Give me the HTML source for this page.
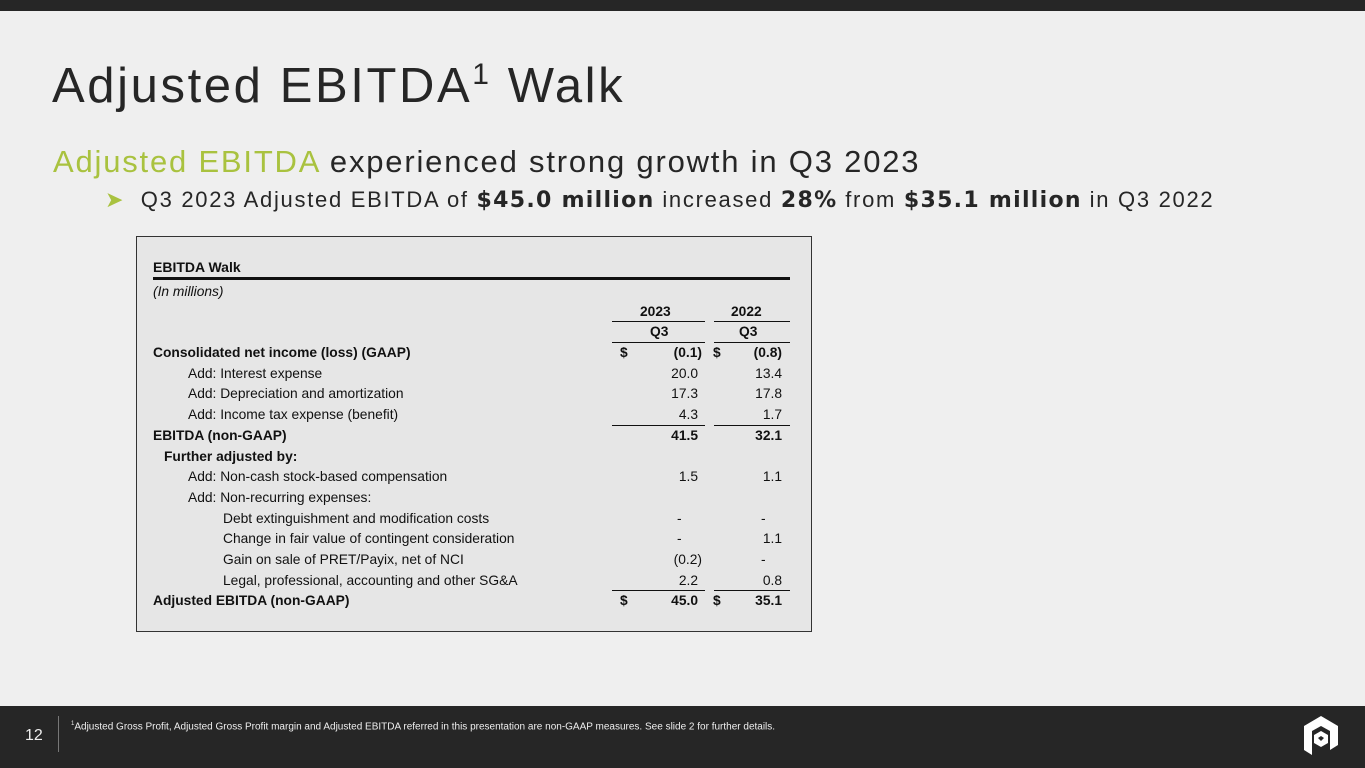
<!DOCTYPE html>
<html><head><meta charset="utf-8"><style>
body{margin:0;width:1365px;height:768px;position:relative;background:#efefef;font-family:"Liberation Sans",sans-serif;overflow:hidden}
.a{position:absolute;white-space:nowrap}
.t{font-size:13.8px;color:#111;line-height:16px}
.b{font-weight:bold}
.r{text-align:right}
.ln{position:absolute;background:#111}
</style></head><body>
<div class="a" style="left:0;top:0;width:1365px;height:11px;background:#262626"></div>
<div class="a" style="left:52px;top:58px;font-size:49px;color:#262626;letter-spacing:2.6px">Adjusted EBITDA<span style="font-size:30px;vertical-align:18px">1</span> Walk</div>
<div class="a" style="left:53px;top:144px;font-size:31px;color:#262626;letter-spacing:1.8px"><span style="color:#a9c23f">Adjusted EBITDA</span> experienced strong growth in Q3 2023</div>
<div class="a" style="left:105px;top:187px;font-size:22px;color:#262626;letter-spacing:1.7px"><span style="color:#a9c23f">&#10148;</span>&nbsp; Q3 2023 Adjusted EBITDA of <b style="font-family:'DejaVu Sans';letter-spacing:1.3px">$45.0 million</b> increased <b style="font-family:'DejaVu Sans';letter-spacing:1.3px">28%</b> from <b style="font-family:'DejaVu Sans';letter-spacing:1.3px">$35.1 million</b> in Q3 2022</div>

<div class="a" style="left:136px;top:236px;width:674px;height:394px;background:#e6e6e6;border:1px solid #333"></div>
<div class="ln" style="left:153px;top:277px;width:637px;height:3px"></div>
<div class="ln" style="left:612px;top:321px;width:93px;height:1px"></div>
<div class="ln" style="left:714px;top:321px;width:76px;height:1px"></div>
<div class="ln" style="left:612px;top:342px;width:93px;height:1px"></div>
<div class="ln" style="left:714px;top:342px;width:76px;height:1px"></div>
<div class="ln" style="left:612px;top:425px;width:93px;height:1px"></div>
<div class="ln" style="left:714px;top:425px;width:76px;height:1px"></div>
<div class="ln" style="left:612px;top:590px;width:93px;height:1px"></div>
<div class="ln" style="left:714px;top:590px;width:76px;height:1px"></div>

<div class="a t b" style="left:153px;top:259px;font-size:14px">EBITDA Walk</div>
<div class="a t" style="left:153px;top:284px;font-style:italic">(In millions)</div>
<div class="a t b" style="left:640px;top:304px">2023</div>
<div class="a t b" style="left:731px;top:304px">2022</div>
<div class="a t b" style="left:650px;top:324px">Q3</div>
<div class="a t b" style="left:739px;top:324px">Q3</div>

<div class="a t b" style="left:153px;top:345px">Consolidated net income (loss) (GAAP)</div>
<div class="a t b" style="left:620px;top:345px">$</div><div class="a t b r" style="right:663px;top:345px">(0.1)</div>
<div class="a t b" style="left:713px;top:345px">$</div><div class="a t b r" style="right:583px;top:345px">(0.8)</div>

<div class="a t" style="left:188px;top:366px">Add: Interest expense</div>
<div class="a t r" style="right:667px;top:366px">20.0</div><div class="a t r" style="right:583px;top:366px">13.4</div>
<div class="a t" style="left:188px;top:386px">Add: Depreciation and amortization</div>
<div class="a t r" style="right:667px;top:386px">17.3</div><div class="a t r" style="right:583px;top:386px">17.8</div>
<div class="a t" style="left:188px;top:407px">Add: Income tax expense (benefit)</div>
<div class="a t r" style="right:667px;top:407px">4.3</div><div class="a t r" style="right:583px;top:407px">1.7</div>
<div class="a t b" style="left:153px;top:428px">EBITDA (non-GAAP)</div>
<div class="a t b r" style="right:667px;top:428px">41.5</div><div class="a t b r" style="right:583px;top:428px">32.1</div>
<div class="a t b" style="left:164px;top:449px">Further adjusted by:</div>
<div class="a t" style="left:188px;top:469px">Add: Non-cash stock-based compensation</div>
<div class="a t r" style="right:667px;top:469px">1.5</div><div class="a t r" style="right:583px;top:469px">1.1</div>
<div class="a t" style="left:188px;top:490px">Add: Non-recurring expenses:</div>
<div class="a t" style="left:223px;top:511px">Debt extinguishment and modification costs</div>
<div class="a t" style="left:677px;top:511px">-</div><div class="a t" style="left:761px;top:511px">-</div>
<div class="a t" style="left:223px;top:531px">Change in fair value of contingent consideration</div>
<div class="a t" style="left:677px;top:531px">-</div><div class="a t r" style="right:583px;top:531px">1.1</div>
<div class="a t" style="left:223px;top:552px">Gain on sale of PRET/Payix, net of NCI</div>
<div class="a t r" style="right:663px;top:552px">(0.2)</div><div class="a t" style="left:761px;top:552px">-</div>
<div class="a t" style="left:223px;top:573px">Legal, professional, accounting and other SG&amp;A</div>
<div class="a t r" style="right:667px;top:573px">2.2</div><div class="a t r" style="right:583px;top:573px">0.8</div>
<div class="a t b" style="left:153px;top:593px">Adjusted EBITDA (non-GAAP)</div>
<div class="a t b" style="left:620px;top:593px">$</div><div class="a t b r" style="right:667px;top:593px">45.0</div>
<div class="a t b" style="left:713px;top:593px">$</div><div class="a t b r" style="right:583px;top:593px">35.1</div>

<div class="a" style="left:0;top:706px;width:1365px;height:62px;background:#262626"></div>
<div class="a" style="left:25px;top:727px;font-size:16px;color:#eee">12</div>
<div class="a" style="left:58px;top:716px;width:1px;height:36px;background:#777"></div>
<div class="a" style="left:71px;top:721px;font-size:10px;color:#eee"><sup style="font-size:6px">1</sup>Adjusted Gross Profit, Adjusted Gross Profit margin and Adjusted EBITDA referred in this presentation are non-GAAP measures. See slide 2 for further details.</div>
<svg class="a" style="left:1302px;top:715px" width="38" height="42" viewBox="0 0 38 42">
<path d="M19 1 L36 11 L36 30 L28 35 L28 16 L19 11 L10 16 L10 40 L2 35 L2 11 Z" fill="#fff"/>
<path d="M19 16 L26 20 L26 28 L19 32 L12 28 L12 20 Z" fill="#fff"/>
<path d="M19 21 L22 23 L19 26 L16 23 Z" fill="#262626"/>
</svg>
</body></html>
